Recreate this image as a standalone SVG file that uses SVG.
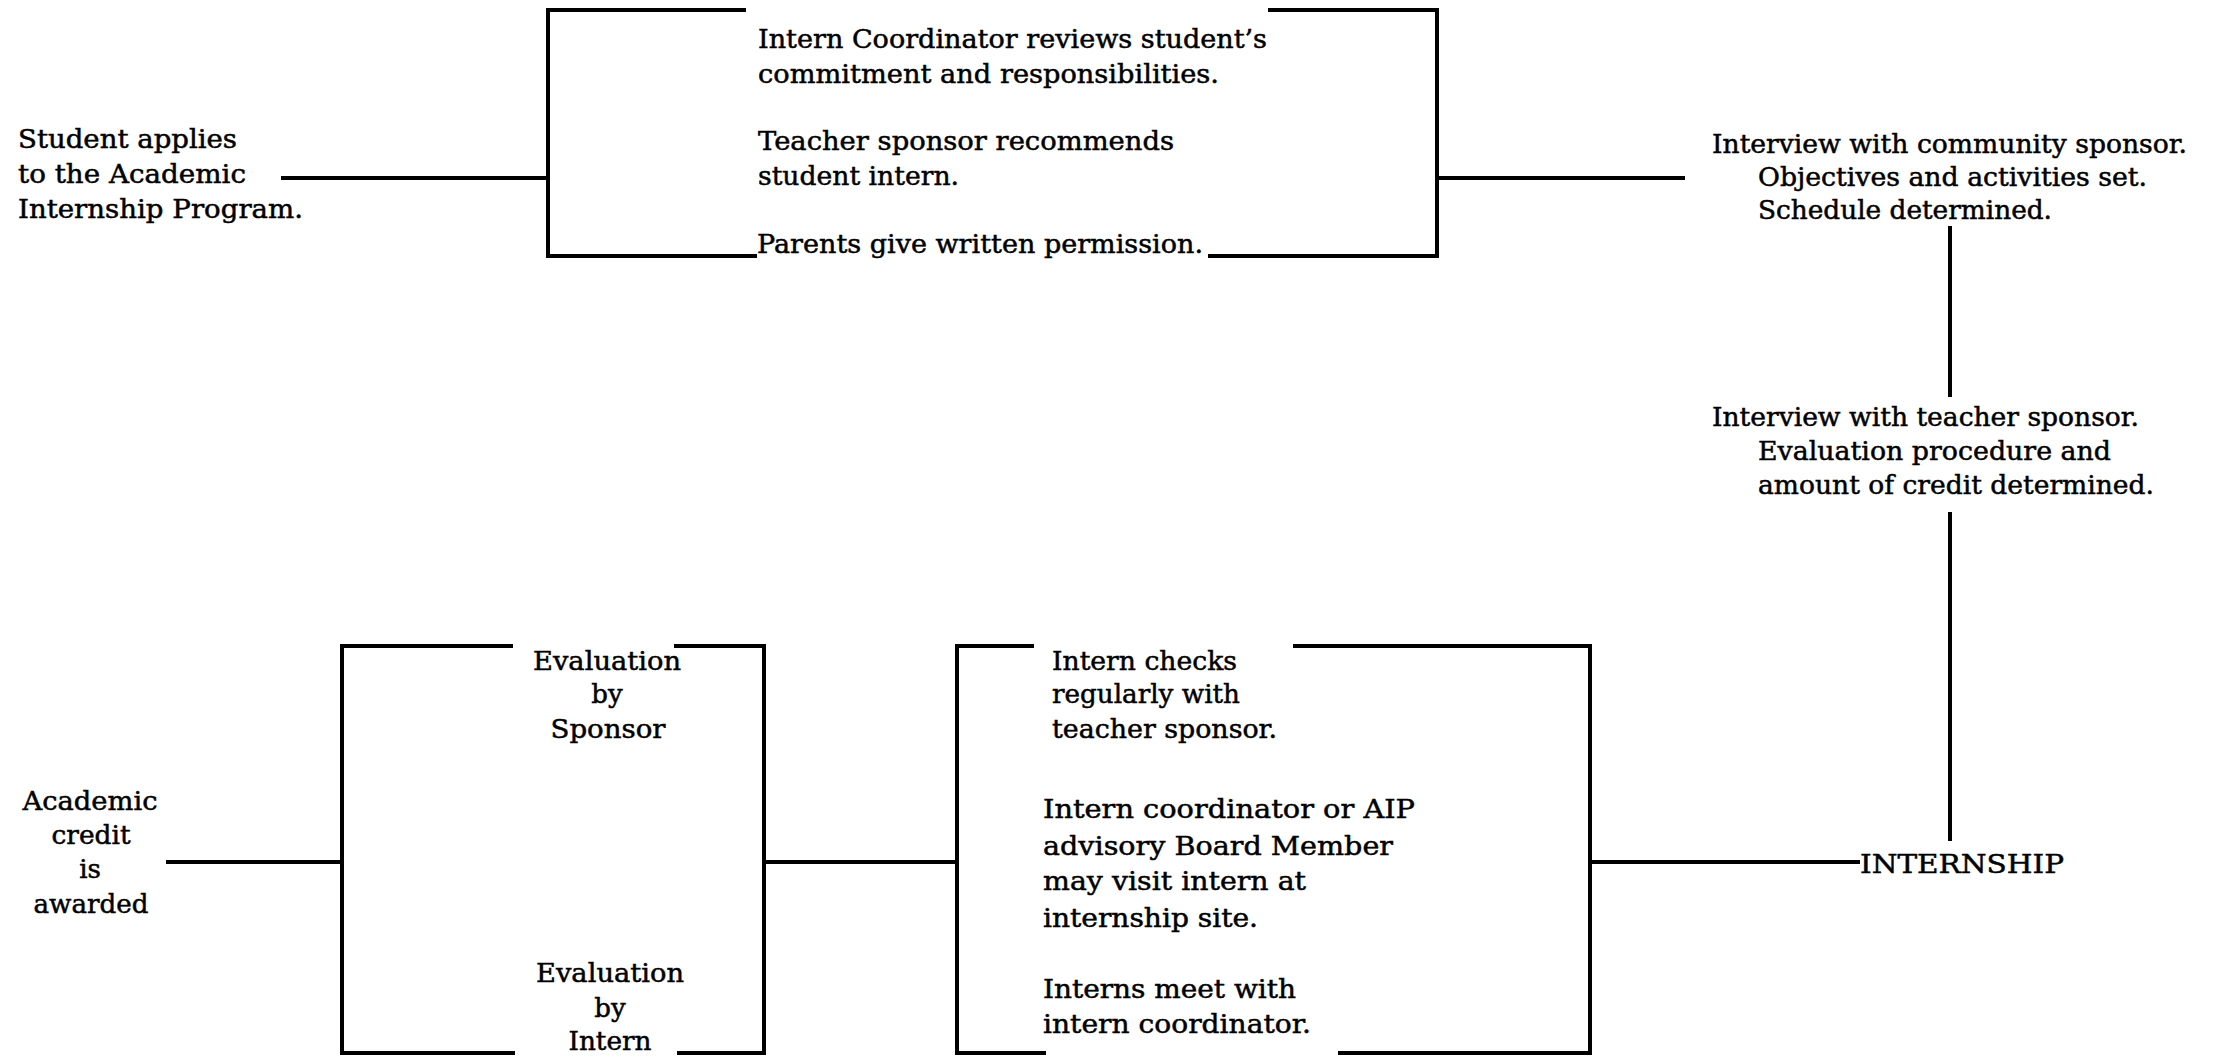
<svg xmlns="http://www.w3.org/2000/svg" width="2214" height="1058" viewBox="0 0 2214 1058">
<style>
.t{font-family:"DejaVu Serif","Liberation Serif",serif;font-size:26px;fill:#000;stroke:#000;stroke-width:0.5}
.c{text-anchor:middle}
.ln{stroke:#000;stroke-width:4;fill:none;stroke-linecap:square}
</style>
<rect width="2214" height="1058" fill="#fff"/>
<g id="connectors">
<line class="ln" x1="283" y1="178" x2="548" y2="178"/>
<line class="ln" x1="1437" y1="178" x2="1683" y2="178"/>
<line class="ln" x1="1950" y1="228" x2="1950" y2="395"/>
<line class="ln" x1="1950" y1="514" x2="1950" y2="839"/>
<line class="ln" x1="1590" y1="862" x2="1858" y2="862"/>
<line class="ln" x1="764" y1="862" x2="957" y2="862"/>
<line class="ln" x1="168" y1="862" x2="342" y2="862"/>
</g>
<g id="n-apply">
<text class="t" x="18" y="148" textLength="219" lengthAdjust="spacingAndGlyphs">Student applies</text>
<text class="t" x="18" y="183" textLength="228" lengthAdjust="spacingAndGlyphs">to the Academic</text>
<text class="t" x="18" y="218" textLength="285" lengthAdjust="spacingAndGlyphs">Internship Program.</text>
</g>
<g id="n-review">
<path class="ln" d="M744,10 H548 V256 H755"/>
<path class="ln" d="M1270,10 H1437 V256 H1210"/>
<text class="t" x="758" y="48" textLength="509" lengthAdjust="spacingAndGlyphs">Intern Coordinator reviews student’s</text>
<text class="t" x="758" y="83" textLength="461" lengthAdjust="spacingAndGlyphs">commitment and responsibilities.</text>
<text class="t" x="758" y="150" textLength="416" lengthAdjust="spacingAndGlyphs">Teacher sponsor recommends</text>
<text class="t" x="758" y="185" textLength="201" lengthAdjust="spacingAndGlyphs">student intern.</text>
<text class="t" x="757" y="253" textLength="446" lengthAdjust="spacingAndGlyphs">Parents give written permission.</text>
</g>
<g id="n-community">
<text class="t" x="1712" y="153" textLength="475" lengthAdjust="spacingAndGlyphs">Interview with community sponsor.</text>
<text class="t" x="1758" y="186" textLength="389" lengthAdjust="spacingAndGlyphs">Objectives and activities set.</text>
<text class="t" x="1758" y="219" textLength="294" lengthAdjust="spacingAndGlyphs">Schedule determined.</text>
</g>
<g id="n-teacher">
<text class="t" x="1712" y="426" textLength="427" lengthAdjust="spacingAndGlyphs">Interview with teacher sponsor.</text>
<text class="t" x="1758" y="460" textLength="353" lengthAdjust="spacingAndGlyphs">Evaluation procedure and</text>
<text class="t" x="1758" y="494" textLength="396" lengthAdjust="spacingAndGlyphs">amount of credit determined.</text>
</g>
<g id="n-internship">
<text class="t" x="1860" y="873" textLength="204" lengthAdjust="spacingAndGlyphs">INTERNSHIP</text>
</g>
<g id="n-checks">
<path class="ln" d="M1032,646 H957 V1053 H1044"/>
<path class="ln" d="M1295,646 H1590 V1053 H1340"/>
<text class="t" x="1052" y="670" textLength="185" lengthAdjust="spacingAndGlyphs">Intern checks</text>
<text class="t" x="1052" y="703" textLength="188" lengthAdjust="spacingAndGlyphs">regularly with</text>
<text class="t" x="1052" y="738" textLength="225" lengthAdjust="spacingAndGlyphs">teacher sponsor.</text>
<text class="t" x="1043" y="818" textLength="372" lengthAdjust="spacingAndGlyphs">Intern coordinator or AIP</text>
<text class="t" x="1043" y="855" textLength="350" lengthAdjust="spacingAndGlyphs">advisory Board Member</text>
<text class="t" x="1043" y="890" textLength="263" lengthAdjust="spacingAndGlyphs">may visit intern at</text>
<text class="t" x="1043" y="927" textLength="215" lengthAdjust="spacingAndGlyphs">internship site.</text>
<text class="t" x="1043" y="998" textLength="253" lengthAdjust="spacingAndGlyphs">Interns meet with</text>
<text class="t" x="1043" y="1033" textLength="268" lengthAdjust="spacingAndGlyphs">intern coordinator.</text>
</g>
<g id="n-evaluation">
<path class="ln" d="M511,646 H342 V1053 H513"/>
<path class="ln" d="M676,646 H764 V1053 H679"/>
<text class="t c" x="607" y="670" textLength="148" lengthAdjust="spacingAndGlyphs">Evaluation</text>
<text class="t c" x="607" y="703">by</text>
<text class="t c" x="608" y="738" textLength="115" lengthAdjust="spacingAndGlyphs">Sponsor</text>
<text class="t c" x="610" y="982" textLength="148" lengthAdjust="spacingAndGlyphs">Evaluation</text>
<text class="t c" x="610" y="1017">by</text>
<text class="t c" x="610" y="1050" textLength="83" lengthAdjust="spacingAndGlyphs">Intern</text>
</g>
<g id="n-credit">
<text class="t c" x="90" y="810" textLength="135" lengthAdjust="spacingAndGlyphs">Academic</text>
<text class="t c" x="91" y="844" textLength="79" lengthAdjust="spacingAndGlyphs">credit</text>
<text class="t c" x="90" y="878">is</text>
<text class="t c" x="91" y="913" textLength="115" lengthAdjust="spacingAndGlyphs">awarded</text>
</g>
</svg>
